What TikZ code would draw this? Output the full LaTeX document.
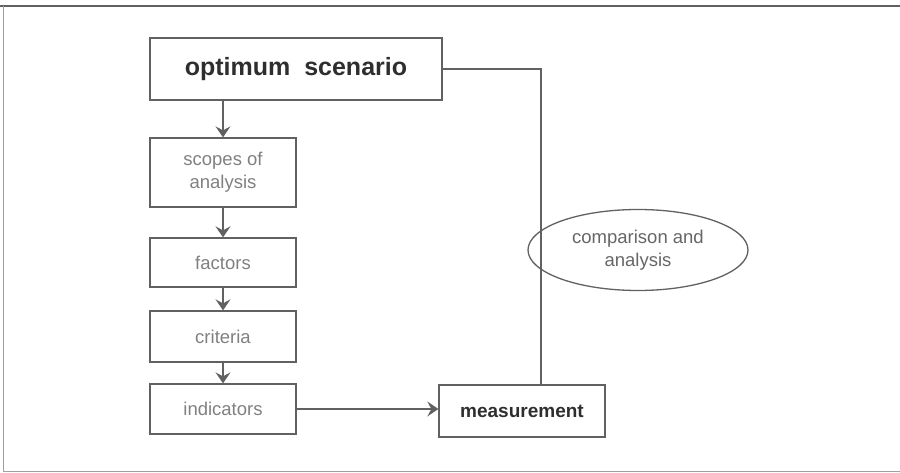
\documentclass[tikz,border=0pt]{standalone}
\usepackage{fontspec}
\setmainfont{Liberation Sans}
\usepackage{tikz}
\usetikzlibrary{shapes,arrows.meta,shapes.geometric}
\definecolor{lineg}{gray}{0.38}
\definecolor{textg}{gray}{0.50}
\definecolor{boldg}{gray}{0.18}
\tikzset{
  boxT/.style={ draw=lineg, line width=1.3pt, inner sep=0pt, align=center, text=boldg,
    font=\fontsize{25}{28}\selectfont\bfseries }
}
\tikzset{
  boxL/.style={ draw=lineg, line width=1.3pt, inner sep=0pt, align=center, text=textg,
    minimum width=146pt, font=\fontsize{18.5}{23}\selectfont }
}
\tikzset{
  boxM/.style={ draw=lineg, line width=1.3pt, inner sep=0pt, align=center, text=boldg,
    font=\fontsize{19}{22}\selectfont\bfseries }
}
\tikzset{
  ovalC/.style={ draw=lineg, line width=1.3pt, ellipse, inner sep=0pt, align=center, text=textg!80!black,
    font=\fontsize{18.5}{23}\selectfont }
}
\tikzset{
  flow/.style={ draw=lineg, line width=1.3pt, -{Stealth[length=11pt,width=15pt,inset=4pt]} }
}

\begin{document}
\begin{tikzpicture}[x=1pt, y=-1pt]
      \useasboundingbox (0,0) rectangle (900,473);
      \draw[lineg, line width=1.6pt] (0,6) -- (900,6);
      \draw[lineg!60, line width=1pt] (3,6) -- (3,471) -- (900,471);

      \node[boxT, minimum width=292pt, minimum height=62pt] (opt) at (296, 69) {optimum\ \ scenario};
      \node[boxL, minimum height=69pt] (scope) at (223, 172.5) {scopes of\\analysis};
      \node[boxL, minimum height=49pt] (fact) at (223, 262.5) {factors};
      \node[boxL, minimum height=51pt] (crit) at (223, 336.5) {criteria};
      \node[boxL, minimum height=50pt] (ind) at (223, 409) {indicators};
      \node[boxM, minimum width=166pt, minimum height=52pt] (meas) at (522, 411) {measurement};
      \node[ovalC, minimum width=220pt, minimum height=81pt] (comp) at (638, 250) {comparison and\\analysis};
      \coordinate (turn) at (541, 69);

      \draw[flow] (opt.south -| scope.north) -- (scope);
      \draw[flow] (scope) -- (fact);
      \draw[flow] (fact) -- (crit);
      \draw[flow] (crit) -- (ind);
      \draw[flow] (ind.east) -- (meas.west |- ind.east);
      \draw[lineg, line width=1.3pt] (opt.east) -- (turn) -- (turn |- meas.north);
    \end{tikzpicture}
\end{document}
